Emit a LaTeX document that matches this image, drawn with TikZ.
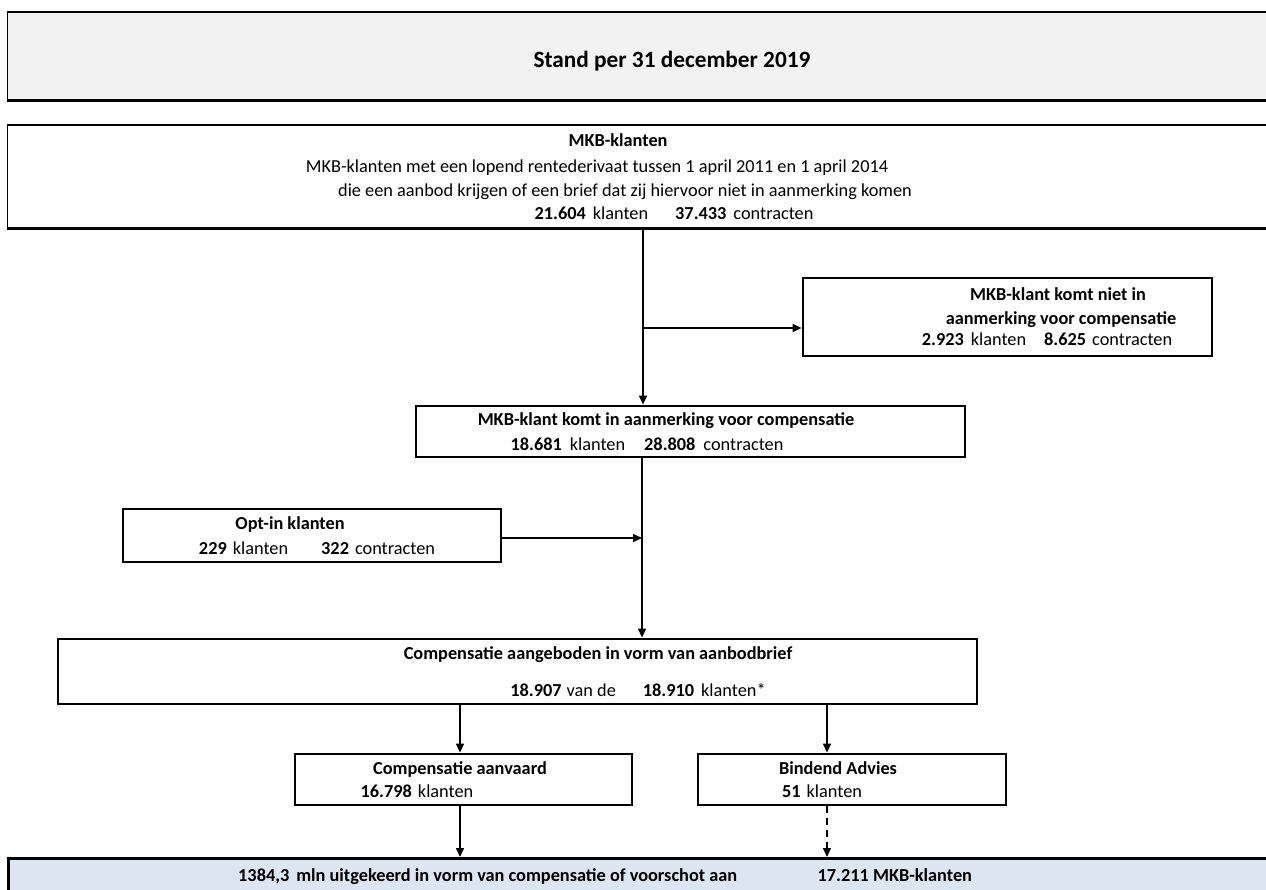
\documentclass[tikz,border=0pt]{standalone}
\usepackage{fontspec}
\setmainfont{Carlito}
\usetikzlibrary{arrows.meta}
\definecolor{kopgrijs}{RGB}{242,242,242}
\definecolor{uitblauw}{RGB}{220,230,241}
\begin{document}
\begin{tikzpicture}[x=1pt,y=-1pt]
        \tikzstyle{every node}=[font=\fontsize{18.3}{22}\selectfont, inner sep=0pt]
        \tikzstyle{box}=[draw, line width=2.8pt]
        \tikzstyle{breed}=[draw, line width=1.2pt, minimum width=1293, anchor=north west]
        \tikzstyle{txt}=[text height=13pt, text depth=4pt]
        \tikzstyle{kop}=[txt, font=\fontsize{18.3}{22}\selectfont\bfseries]
        \tikzstyle{arr}=[line width=1.5pt, -{Triangle[length=9pt,width=8pt]}]
        \clip (0,0) rectangle (1266,890);
        \fill[white] (0,0) rectangle (1266,890);
        % kop en brede vakken
        \node[breed, fill=kopgrijs, minimum height=87] (titel) at (7,12) {};
        \draw[line width=2.2pt] (titel.north west) -- (titel.north east);
        \draw[line width=2.8pt] (titel.south west) -- (titel.south east);
        \node[txt, font=\fontsize{23.3}{28}\selectfont\bfseries] (titelt) at (672,63) {Stand per 31 december 2019};
        \node[breed, minimum height=102] (mkb) at (7,125) {};
        \draw[line width=2.8pt] (mkb.north west) -- (mkb.north east) (mkb.south west) -- (mkb.south east);
        \node[kop] (mkb1) at (618,142) {MKB-klanten};
        \node[txt] (mkb2) at (597,168) {MKB-klanten met een lopend rentederivaat tussen 1 april 2011 en 1 april 2014};
        \node[txt] (mkb3) at (625,192) {die een aanbod krijgen of een brief dat zij hiervoor niet in aanmerking komen};
        \node[txt] (mkb4) at (674,215) {\textbf{21.604}\hspace{7pt}klanten\hspace{27pt}\textbf{37.433}\hspace{7pt}contracten};
        % vakken
        \node[box, minimum width=409, minimum height=78] (niet) at (1007.5,317) {};
        \node[kop] (niet1) at (1058,296) {MKB-klant komt niet in};
        \node[kop] (niet2) at (1061,320) {aanmerking voor compensatie};
        \node[txt] (niet3) at (1047,341) {\textbf{2.923}\hspace{7pt}klanten\hspace{18pt}\textbf{8.625}\hspace{6pt}contracten};
        \node[box, minimum width=549, minimum height=51] (wel) at (690.5,431.5) {};
        \node[kop] (wel1) at (666,421) {MKB-klant komt in aanmerking voor compensatie};
        \node[txt] (wel2) at (647,446) {\textbf{18.681}\hspace{8pt}klanten\hspace{19pt}\textbf{28.808}\hspace{8pt}contracten};
        \node[box, minimum width=378, minimum height=53] (optin) at (312,535.5) {};
        \node[kop] (optin1) at (290,525) {Opt-in klanten};
        \node[txt] (optin2) at (317,550) {\textbf{229}\hspace{6pt}klanten\hspace{33pt}\textbf{322}\hspace{6pt}contracten};
        \node[box, minimum width=919, minimum height=65] (aanbod) at (517.5,671.5) {};
        \node[kop] (aanbod1) at (598,655) {Compensatie aangeboden in vorm van aanbodbrief};
        \node[txt] (aanbod2) at (638,692) {\textbf{18.907}\hspace{5pt}van de\hspace{27pt}\textbf{18.910}\hspace{7pt}klanten*};
        \node[box, minimum width=337, minimum height=51] (aanv) at (463.5,779.5) {};
        \node[kop] (aanv1) at (460,770) {Compensatie aanvaard};
        \node[txt] (aanv2) at (417,793) {\textbf{16.798}\hspace{6pt}klanten};
        \node[box, minimum width=308, minimum height=51] (bindend) at (852,779.5) {};
        \node[kop] (bindend1) at (838,770) {Bindend Advies};
        \node[txt] (bindend2) at (822,793) {\textbf{51}\hspace{6pt}klanten};
        \node[breed, line width=2.8pt, fill=uitblauw, minimum height=60] (uit) at (7,857) {};
        \node[kop, anchor=west] (uit1) at (238,877) {1384,3\hspace{7pt}mln uitgekeerd in vorm van compensatie of voorschot aan};
        \node[kop, anchor=west] (uit2) at ([xshift=80pt]uit1.east) {17.211 MKB-klanten};
        % pijlen
        \coordinate (splits) at (643,328);
        \coordinate (samen) at (642,538);
        \coordinate (links) at (460,0);
        \coordinate (rechts) at (827,0);
        \draw[arr] (mkb.south -| splits) -- (wel.north -| splits);
        \draw[arr] (splits) -- (splits -| niet.west);
        \draw[arr] (wel.south -| samen) -- (aanbod.north -| samen);
        \draw[arr] (samen -| optin.east) -- (samen);
        \draw[arr] (aanbod.south -| links) -- (aanv.north -| links);
        \draw[arr] (aanbod.south -| rechts) -- (bindend.north -| rechts);
        \draw[arr] (aanv.south -| links) -- (uit.north -| links);
        \draw[arr, dash pattern=on 7pt off 5pt] (bindend.south -| rechts) -- (uit.north -| rechts);
    \end{tikzpicture}
\end{document}
